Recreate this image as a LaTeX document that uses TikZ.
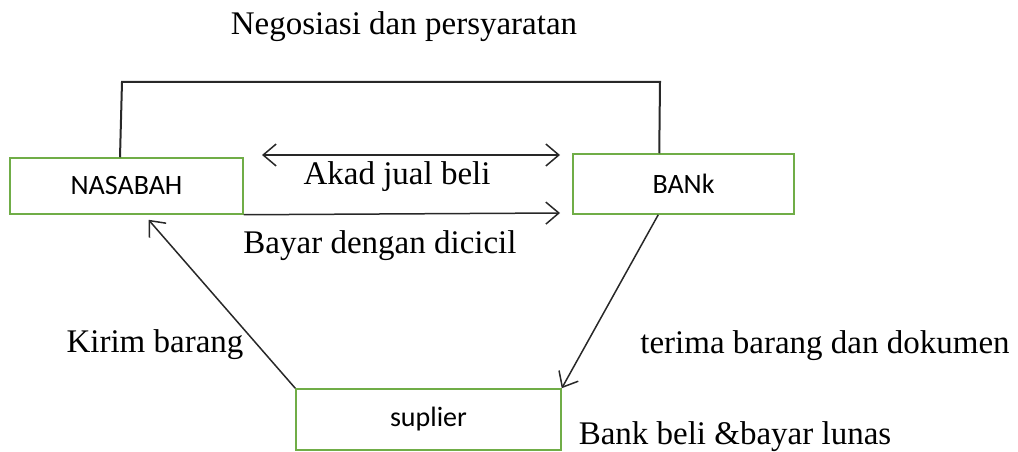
\documentclass[tikz,border=0pt]{standalone}
\usepackage{fontspec}
\setmainfont{Liberation Serif}
\newfontfamily\boxfont{Carlito}
\usetikzlibrary{arrows.meta}
\definecolor{boxgreen}{RGB}{112,173,71}
\definecolor{linegray}{RGB}{40,40,40}
\begin{document}
\begin{tikzpicture}[x=1pt,y=-1pt,
  party/.style={draw=boxgreen,line width=1.5pt,inner sep=0pt,font=\boxfont\fontsize{28}{32}\selectfont},
  lbl/.style={inner sep=0pt,font=\fontsize{33}{38}\selectfont},
  conn/.style={draw=linegray,line width=1.5pt},
  tip/.style={-{Straight Barb[length=13pt,width=22pt,line width=1.5pt]}}
]
\useasboundingbox (0,0) rectangle (1018,452);
% boxes
\node[party,minimum width=233pt,minimum height=56pt] (nas) at (126.5,186) {NASABAH};
\node[party,minimum width=221pt,minimum height=60pt] (bank) at (683.5,184) {BANk};
\node[party,minimum width=265pt,minimum height=61pt] (sup) at (428.5,419.5) {suplier};
% coordinates
\coordinate (topL) at ([xshift=-6.5pt]nas.north);
\coordinate (topR) at ([xshift=87pt]bank.north west);
\coordinate (akadL) at (262,155);
\coordinate (akadR) at (560,155);
\coordinate (bayarR) at (560,213);
\coordinate (kirimEnd) at ([xshift=22pt,yshift=-5pt]nas.south);
\coordinate (bankOut) at ([xshift=86pt]bank.south west);
% connectors
\draw[conn,line width=2pt] (topL) -- (122,82) -- (660,82) -- (topR);
\draw[conn,{Straight Barb[length=13pt,width=22pt,line width=1.5pt]}-{Straight Barb[length=13pt,width=22pt,line width=1.5pt]}] (akadL) -- (akadR);
\draw[conn,tip] (nas.south east) -- (bayarR);
\draw[conn,tip] (sup.north west) -- (kirimEnd);
\draw[conn,tip] (bankOut) -- (sup.north east);
% labels
\node[lbl] (neg) at (404,27) {Negosiasi dan persyaratan};
\node[lbl] (akad) at (397,177) {Akad jual beli};
\node[lbl] (bayar) at (380,246) {Bayar dengan dicicil};
\node[lbl] (kirim) at (155,345) {Kirim barang};
\node[lbl] (terima) at (825,346) {terima barang dan dokumen};
\node[lbl] (lunas) at (735,437) {Bank beli \&bayar lunas};
\end{tikzpicture}
\end{document}
